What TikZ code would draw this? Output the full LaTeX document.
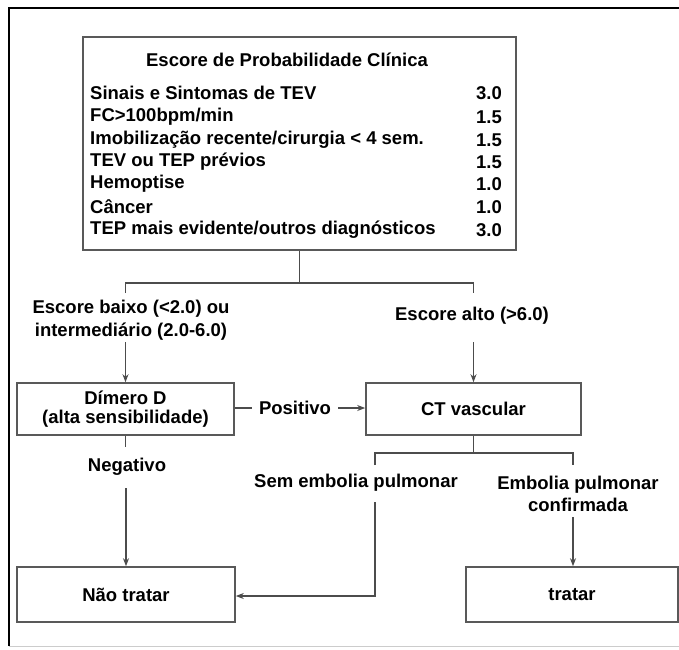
\documentclass[tikz,border=0pt]{standalone}
\usepackage{fontspec}
\setmainfont{Liberation Sans}
\usetikzlibrary{arrows.meta}
\begin{document}
\begin{tikzpicture}[x=1pt,y=-1pt,
  font=\fontsize{18.5}{21}\selectfont\bfseries,
  box/.style={draw=black!65, line width=1.6pt, inner sep=0pt, align=center},
  conn/.style={draw=black!70, line width=1.2pt},
  arr/.style={conn, -{Stealth[length=8pt,width=6pt]}},
  lbl/.style={inner sep=1pt, align=center},
  row/.style={inner sep=0pt, anchor=west},
  num/.style={inner sep=0pt, anchor=east}]
\useasboundingbox (0,0) rectangle (679,649);
\fill[white] (0,0) rectangle (679,649);
% frame
\draw[line width=1.6pt] (9,646) -- (9,8) -- (679,8);
\draw[black!20, line width=1pt] (9,646) -- (679,646);
% score box
\node[box, minimum width=433pt, minimum height=213pt] (score) at (299.5,143.5) {};
\node[lbl] (title) at (287,60) {Escore de Probabilidade Clínica};
\foreach \i/\t/\v/\y in {1/Sinais e Sintomas de TEV/3.0/93,
                         2/FC>100bpm\slash min/1.5/117,
                         3/Imobilização recente\slash cirurgia < 4 sem./1.5/140,
                         4/TEV ou TEP prévios/1.5/162,
                         5/Hemoptise/1.0/184,
                         6/Câncer/1.0/207,
                         7/TEP mais evidente\slash outros diagnósticos/3.0/230}{
  \node[row] (r\i) at (90,\y) {\t};
  \node[num] (v\i) at (502,\y) {\v};
}
% boxes
\node[box, minimum width=217pt, minimum height=52pt, font=\fontsize{18.5}{19}\selectfont\bfseries] (dimero) at (125.5,409) {Dímero D\\(alta sensibilidade)};
\node[box, minimum width=215pt, minimum height=52pt] (ct) at (473.5,409) {CT vascular};
\node[box, minimum width=218pt, minimum height=55pt] (nao) at (126,594.5) {Não tratar};
\node[box, minimum width=212pt, minimum height=55pt] (tratar) at (572,594.5) {tratar};
% labels
\node[lbl, font=\fontsize{18.5}{23}\selectfont\bfseries] (low) at (131,320.5) {Escore baixo (<2.0) ou\\intermediário (2.0-6.0)};
\node[lbl] (high) at (472,316) {Escore alto (>6.0)};
\node[lbl, inner xsep=7pt] (pos) at (295,408) {Positivo};
\node[lbl] (neg) at (127,467) {Negativo};
\node[lbl] (sem) at (356,483) {Sem embolia pulmonar};
\node[lbl, font=\fontsize{18.5}{22}\selectfont\bfseries] (emb) at (578,494) {Embolia pulmonar\\confirmada};
% branching from score
\coordinate (stem) at (score.south |- 0,283);
\coordinate (bl) at (dimero.north |- 0,283);
\coordinate (brt) at (ct.north |- 0,283);
\draw[conn] (score.south) -- (stem);
\draw[conn] (bl |- 0,293) -- (bl) -- (brt) -- (brt |- 0,293);
\draw[arr] (dimero.north |- 0,342) -- (dimero.north);
\draw[arr] (ct.north |- 0,342) -- (ct.north);
% positivo
\draw[conn] (dimero.east |- pos.west) -- (pos.west);
\draw[arr] (pos.east) -- (ct.west |- pos.east);
% negativo
\draw[conn] (dimero.south) -- ++(0,11);
\draw[arr] (nao.north |- 0,488) -- (nao.north);
% CT branches
\coordinate (cl) at (375,453);
\coordinate (cr) at (573,453);
\draw[conn] (ct.south) -- (ct.south |- cl);
\draw[conn] (cl |- 0,465) -- (cl) -- (cr) -- (cr |- 0,465);
\draw[arr] (375,502) -- (375,596) -- (nao.east |- 0,596);
\draw[arr] (tratar.north -| cr) ++(0,-49) -- (tratar.north -| cr);
\end{tikzpicture}
\end{document}
